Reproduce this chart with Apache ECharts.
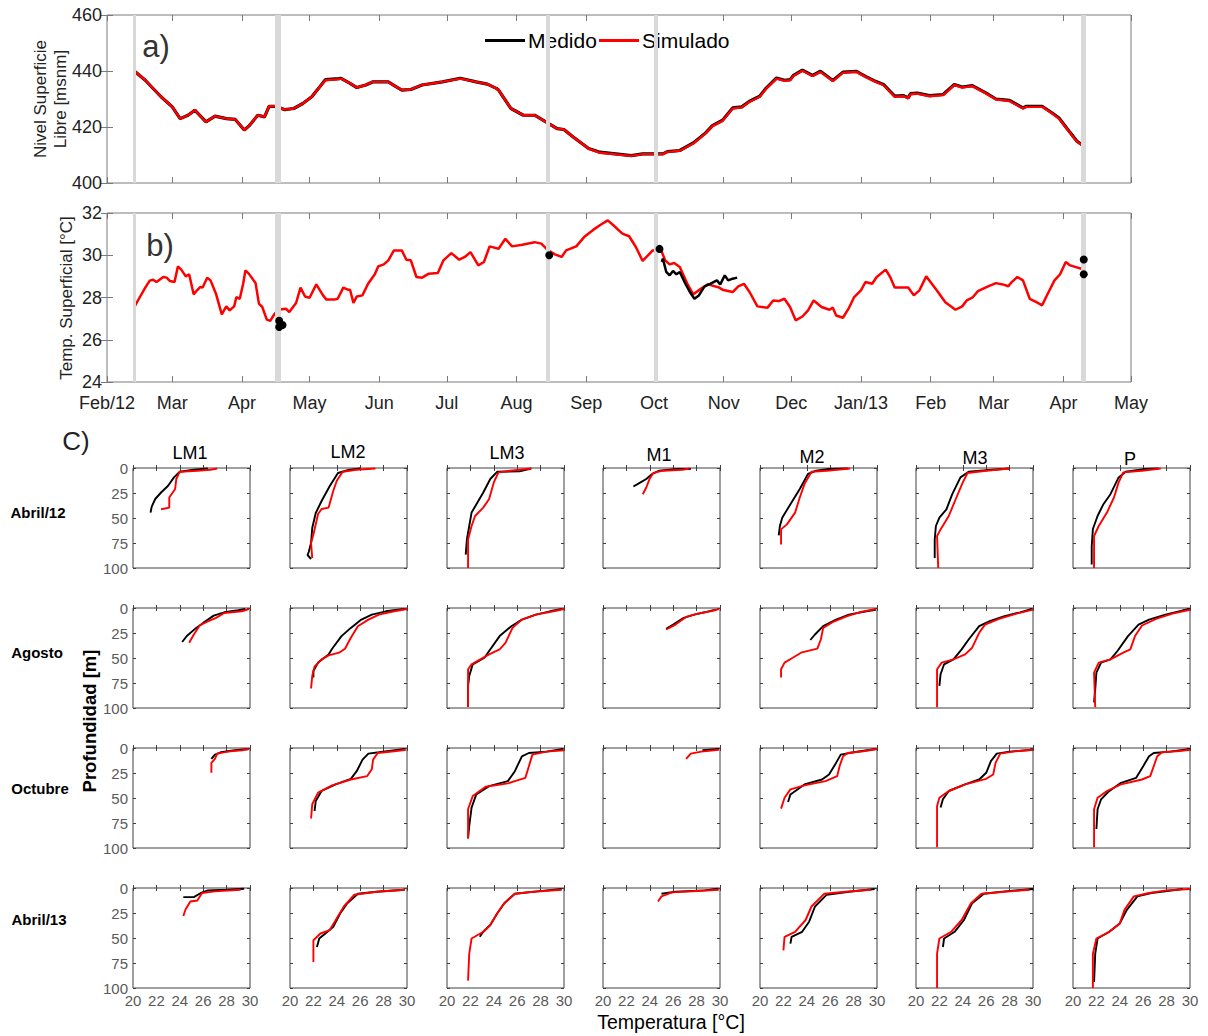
<!DOCTYPE html>
<html><head><meta charset="utf-8">
<script src="https://cdn.jsdelivr.net/npm/echarts@6/dist/echarts.min.js"></script>
<style>html,body{margin:0;padding:0;background:#fff}#c{width:1208px;height:1036px}</style>
</head><body><div id="c"></div><script>
// ---------- DATA ----------
// days counted from 1 Feb 2012
const monthTickDays = [0,29,60,90,121,151,182,213,243,274,304,335,366,394,425,455];
const monthTickLabels = ['Feb/12','Mar','Apr','May','Jun','Jul','Aug','Sep','Oct','Nov','Dec','Jan/13','Feb','Mar','Apr','May'];
const campaignDays = [12,76,196,244,434];

const levelDays = [12,17,24,29,32.5,36,39,44,48,53,57,61,63,67,70,72,75,79,83,87,91,94,97,103,104,108,111,115,118,125,128,131,135,140,149,157,164,169,173,174,179.5,185,190,195,200,203,207,214,219,233,238,247,249,254.5,260.5,266,269,273.5,278,282,285.5,290,293,297.5,301,303.5,305,309,313.5,317,322.5,327,333,337,341.5,345,350,354,356,357,360,365.5,371.5,376.5,380,384.5,390.5,395,401,407,408.5,415.5,420,423,427.5,431,434];
const levelMeasured = [440.1,436.7,430.8,427.2,423.0,424.2,426.0,421.8,423.9,423.0,422.7,418.9,420.3,424.2,423.6,427.4,427.4,426.2,426.6,428.4,430.8,433.8,436.9,437.3,437.4,435.6,434.1,435.0,436.1,436.1,434.6,433.2,433.4,435.0,436.1,437.4,436.1,435.3,433.8,433.2,426.6,424.2,424.2,421.8,419.4,419.1,416.5,412.3,411.0,409.8,410.4,410.4,411.2,411.6,414.3,417.9,420.5,422.4,426.8,427.2,429.2,431.0,434.0,437.5,436.7,436.9,438.4,440.3,438.4,439.9,436.6,439.6,439.9,438.1,436.3,435.2,431.0,431.2,430.4,431.9,432.1,431.2,431.6,435.2,434.3,434.8,432.2,430.0,429.5,426.8,427.4,427.4,425.0,423.2,418.5,414.9,413.2];
const levelSimulated = [440.1,436.7,430.8,427.2,423.0,424.2,426.0,421.8,423.9,423.0,422.7,418.9,420.3,424.2,423.6,427.4,427.4,426.2,426.6,428.4,430.8,433.8,436.7,437.1,437.3,435.6,434.1,435.0,436.1,436.1,434.6,433.2,433.4,435.0,436.1,437.3,436.1,435.3,433.8,433.2,426.6,424.2,424.2,421.8,419.4,419.1,416.5,412.3,410.8,409.7,410.3,410.3,411.1,411.5,414.1,417.7,420.3,422.2,426.6,427.0,429.0,430.8,433.8,437.3,436.5,436.7,438.2,440.1,438.2,439.7,436.4,439.4,439.7,437.9,436.1,435.0,430.8,431.0,430.2,431.7,431.9,431.0,431.4,435.0,434.1,434.6,432.0,429.8,429.3,426.6,427.2,427.2,424.8,423.0,418.3,414.7,413.1];

const tempSimDays = [12,14.5,17,19,20.5,22,25,26.5,28,30,31.5,33,35,36.5,38.5,40,41.5,42.5,44.5,46,48.5,51,53,54.5,56.5,57.5,59,60.5,61.5,63,66,67.5,69,71,72.5,74.5,76,79.5,81,84,86,88,90,93,96,97.5,101,102.5,105,107,108,109.5,111,113.5,116,119,120.5,123,125,127.5,131,133,135,137.5,140,143,147,149.5,153,156.5,159,161.5,165,167.5,170,174,177,180,184.5,190,193,196,199,202,204,208.5,212,216,219,222.5,225,229,232,235,238,242.5,245,246,248,250,252,254.5,258,260.5,264,267,272,273.5,278,280.5,283,285.5,289,293.5,296,298.5,301,303.5,306,309,311.5,314,317.5,321,322.5,324,327,329.5,332,335,337,340,342,346,348,350,353,356,358.5,361,364,366.5,369,372.5,377,380,382,384.5,387,391.5,395,398,400.5,402,404.5,407,410,413,415.5,418,421,423.5,426,428,430.5,433];
const tempSimulated = [27.52,28.0,28.47,28.8,28.84,28.73,28.97,28.94,28.78,28.73,29.47,29.32,29.0,29.1,28.15,28.34,28.5,28.47,28.94,28.81,28.15,27.2,27.58,27.39,27.58,28.02,27.94,28.65,29.28,29.13,28.69,27.71,27.55,26.95,26.89,27.23,27.42,27.47,27.31,27.74,28.47,28.05,27.99,28.62,28.1,27.9,27.9,27.94,28.47,28.37,28.37,27.74,28.05,28.1,28.65,29.1,29.47,29.57,29.76,30.23,30.23,29.79,29.76,28.97,28.94,29.13,29.16,29.76,30.1,29.79,29.92,30.15,29.52,29.68,30.42,30.31,30.78,30.42,30.5,30.62,30.55,30.23,30.04,29.92,30.23,30.42,30.86,31.2,31.42,31.65,31.42,31.02,30.9,30.39,29.73,30.23,30.23,30.3,29.76,29.57,29.63,29.44,28.62,28.15,28.42,28.62,28.47,28.37,28.26,28.53,28.65,28.26,27.58,27.52,27.86,27.83,27.94,27.55,26.92,27.1,27.39,27.86,27.55,27.42,27.52,27.15,27.04,27.47,28.02,28.34,28.73,28.65,28.97,29.32,28.97,28.47,28.47,28.47,28.1,28.34,29.0,28.65,28.3,27.78,27.42,27.58,27.86,27.99,28.3,28.53,28.68,28.62,28.53,28.73,28.97,28.81,27.94,27.78,27.63,28.18,28.81,29.1,29.68,29.52,29.44,29.36];
const tempMeasDays = [246.5,247,248.5,250,251.5,253,254.5,257,259,261,263,265.5,268,271,272.5,274.5,276,278,280];
const tempMeasured = [29.68,29.84,29.21,29.05,29.26,29.1,29.21,28.65,28.26,27.94,28.1,28.53,28.65,28.81,28.62,29.05,28.81,28.89,28.94];
const tempPointDays = [76.5,76.5,78,196.5,245.5,434,434];
const tempPointValues = [26.9,26.6,26.7,30.0,30.3,29.8,29.1];

// profiles: [temperature °C, depth m]
const stations = ['LM1','LM2','LM3','M1','M2','M3','P'];
const campaigns = ['Abril/12','Agosto','Octubre','Abril/13'];

const abril12Medido = {
 LM1: [[21.5,44.6],[21.6,38.6],[21.9,31],[22.4,24.5],[23.0,17.8],[23.5,9.4],[24.0,3.7],[25.2,1.7],[26.4,0.5]],
 LM2: [[21.8,91],[21.5,87],[21.6,84],[21.8,75],[21.9,60],[22.2,45],[22.7,33],[23.4,18],[24.1,5],[25.0,2],[26.0,0.5]],
 LM3: [[21.6,86.6],[21.7,71.5],[21.9,58],[22.1,44.6],[22.6,34.6],[23.1,24.5],[23.7,11],[24.3,3.7],[26.2,3.4],[27.2,0.5]],
 M1: [[22.6,18.5],[23.1,15.1],[23.7,11],[24.2,6],[24.8,2.7],[26.3,1],[27.5,1]],
 M2: [[21.6,67.4],[21.7,58],[21.9,49.7],[22.6,36.2],[23.4,21],[24.1,6],[24.8,2.7],[25.9,1],[27.5,0.5]],
 M3: [[21.6,90],[21.6,71.5],[21.7,58],[22.0,49.7],[22.6,41.3],[23.1,26.2],[23.8,9.4],[24.5,3.7],[26.5,1.7],[28.0,0.5]],
 P: [[21.6,96.6],[21.6,78],[21.7,61],[22.1,48],[22.6,36.2],[23.2,26.2],[23.9,9.4],[24.5,3.7],[26.2,1],[27.3,0.5]]
};
const abril12Simulado = {
 LM1: [[22.4,41.3],[23.1,39.6],[23.1,29.5],[23.6,21],[23.7,11],[24.0,3.7],[25.5,2.7],[26.6,1.7],[27.2,0.5]],
 LM2: [[21.9,90],[21.8,75],[22.0,66.5],[22.4,46],[22.7,41],[23.3,39.6],[23.7,22.8],[24.0,12.8],[24.5,3.7],[25.7,1.7],[27.3,0.5]],
 LM3: [[21.8,100],[21.8,71.5],[22.1,58],[22.4,48],[23.1,39.6],[23.6,31],[24.0,14.4],[24.4,4.4],[25.4,2.7],[27.2,0.5]],
 M1: [[23.4,26.2],[23.7,19.5],[24.0,10.4],[24.3,5],[25.1,2.7],[26.8,1.7],[27.4,0.5]],
 M2: [[21.8,76.5],[21.8,61.4],[22.3,56.4],[23.0,44.6],[23.4,29.5],[23.8,16.1],[24.4,3.7],[25.7,2.7],[27.7,0.5]],
 M3: [[21.9,100],[21.8,68],[22.1,61.4],[22.8,48],[23.4,31],[24.0,14.4],[24.4,5],[26.0,2.7],[28.0,0.5]],
 P: [[21.8,100],[21.8,68],[22.2,58],[22.9,44.6],[23.5,29.5],[23.9,14.4],[24.3,4.4],[25.9,2.7],[27.5,0.5]]
};
const agostoMedido = {
 LM1: [[24.2,34],[24.6,28],[25.4,19.9],[26.0,14.9],[26.9,7.6],[27.8,4.3],[29.0,2.3],[29.6,1]],
 LM2: [[22.0,69.5],[22.0,63],[22.4,54.6],[23.3,46.4],[23.6,40.7],[24.4,28.1],[25.2,19.9],[26.1,11.6],[27.0,6.6],[28.2,3.3],[29.2,1.7],[29.8,1]],
 LM3: [[21.8,99],[21.8,77.8],[21.9,67.9],[22.2,56.3],[23.2,49.7],[23.6,43],[24.5,28.1],[25.5,18.2],[26.4,11.6],[27.6,6.6],[28.8,3.3],[29.8,1]],
 M1: [[25.4,20.9],[26.0,16.6],[26.9,9.9],[27.8,6.6],[28.7,4.3],[29.6,1.7]],
 M2: [[24.3,32],[24.7,26.5],[25.4,18.2],[26.5,11.6],[27.6,6.6],[29.1,3.3],[29.9,1.7]],
 M3: [[22.0,77.8],[22.1,66.2],[22.4,56.3],[23.2,51.3],[23.9,41.4],[24.5,31.5],[25.4,18.2],[26.3,13.2],[27.5,8.3],[28.9,4.3],[29.9,1]],
 P: [[21.8,94.4],[21.9,81.1],[22.0,64.6],[22.4,54.6],[23.2,51.3],[23.8,43],[24.7,28.1],[25.6,16.6],[26.5,11.6],[27.9,6.6],[29.4,2.3],[30.0,1]]
};
const agostoSimulado = {
 LM1: [[24.8,34.8],[25.2,26.5],[25.7,17.5],[26.3,13.9],[27.1,9.9],[27.8,5],[29.3,3.3],[29.9,1]],
 LM2: [[21.8,80.5],[21.9,68],[22.1,58.6],[22.7,51.3],[23.3,47.4],[24.2,44.7],[24.7,40.7],[25.2,29.8],[25.8,18.2],[26.7,11.6],[27.6,6.6],[28.9,3.3],[30.0,1]],
 LM3: [[21.8,99],[21.8,61.3],[22.1,56.3],[22.7,52.3],[23.6,46.4],[24.5,41.4],[25.0,34.8],[25.6,19.9],[26.4,11.6],[27.6,6.6],[29.1,3.3],[30.0,1]],
 M1: [[25.4,21.5],[26.2,16.6],[27.1,8.9],[28.1,5.6],[29.3,3],[29.9,1]],
 M2: [[21.8,69.5],[21.8,61.3],[22.1,54.6],[22.8,49.7],[23.5,44.7],[24.9,40.7],[25.2,31.5],[25.4,19.9],[26.2,14.2],[27.4,8.3],[28.5,4.3],[29.9,1]],
 M3: [[21.8,99.3],[21.8,61.3],[22.2,54.6],[23.2,51.3],[24.2,46.4],[24.8,39.7],[25.4,24.8],[25.9,16.6],[27.1,10.9],[28.6,5.6],[30.0,1.7]],
 P: [[21.9,99.3],[21.8,64.6],[22.2,54.6],[23.2,51.3],[24.3,44.7],[24.9,41.4],[25.3,28.1],[25.9,17.5],[27.1,10.9],[28.5,5.6],[30.0,1.7]]
};
const octubreMedido = {
 LM1: [[26.7,10.9],[27.0,6.6],[27.5,4.3],[28.7,2.3],[29.9,1]],
 LM2: [[22.1,63],[22.2,53],[22.7,43],[23.9,36.4],[25.2,30.8],[25.7,23.2],[26.2,11.6],[26.7,5.6],[27.6,4.3],[29.8,1]],
 LM3: [[21.8,90.4],[21.9,77.8],[22.1,59.6],[22.5,46.4],[23.6,38.1],[25.2,33.1],[25.8,23.2],[26.4,8.3],[27.0,5],[28.5,3.6],[29.9,1]],
 M1: [[28.5,2.3],[29.9,1]],
 M2: [[22.4,54],[22.6,46.4],[23.8,36.4],[25.3,31.5],[25.9,26.5],[26.5,14.9],[26.9,6.6],[28.0,4.3],[29.9,1]],
 M3: [[22.1,59.6],[22.3,51.3],[22.8,43],[24.2,36.4],[25.4,31.5],[26.0,24.8],[26.4,13.2],[26.9,5.6],[28.0,3.6],[30.0,1.7]],
 P: [[22.0,81],[22.1,61.3],[22.4,51.3],[23.0,44],[24.1,34.8],[25.4,29.8],[26.0,18.2],[26.5,8.3],[26.9,5],[28.3,3.6],[30.0,1]]
};
const octubreSimulado = {
 LM1: [[26.7,24.8],[26.7,14.9],[27.0,10.9],[27.2,5.6],[28.1,3.6],[29.3,2.3],[29.9,1]],
 LM2: [[21.8,70.5],[21.9,56.3],[22.4,44.7],[23.6,37.4],[25.2,31.5],[26.6,28.1],[27.0,20.9],[27.1,11.6],[27.5,5],[28.9,3.3],[29.9,1.7]],
 LM3: [[21.8,90.4],[21.8,61.3],[22.2,48],[23.3,38.7],[25.2,35.4],[26.7,29.8],[27.0,18.2],[27.3,6.6],[28.5,3.6],[30.0,2.3]],
 M1: [[27.1,10.9],[27.5,5.6],[28.4,3.6],[29.9,1.7]],
 M2: [[21.8,60.6],[22.1,49.7],[22.6,41.4],[23.8,37.4],[25.6,33.1],[26.6,28.1],[26.8,18.2],[27.1,8.3],[27.5,5],[28.8,3.3],[30.0,1]],
 M3: [[21.8,99.3],[21.8,58],[22.0,49.7],[22.8,43],[24.2,36.4],[26.0,30.8],[26.6,26.5],[26.8,14.9],[27.2,5.6],[28.3,3.6],[30.0,1.7]],
 P: [[21.8,99.3],[21.8,61.3],[22.1,49.7],[22.9,43],[24.1,36.4],[25.9,31.5],[26.6,28.1],[26.9,18.2],[27.2,8.3],[27.6,4.3],[29.1,3],[30.0,1.7]]
};
const abril13Medido = {
 LM1: [[24.3,9.1],[25.2,9.1],[25.8,5],[26.4,2.4],[28.0,1.7],[29.5,0.7]],
 LM2: [[22.3,59],[22.5,50.5],[23.1,44.8],[23.7,38.7],[24.3,25.3],[24.9,15.2],[25.8,5.7],[27.4,3.7],[29.8,1.7]],
 LM3: [[22.8,48.8],[23.1,43.8],[23.7,37],[24.3,25.3],[24.9,15.2],[25.8,5.7],[27.7,3.4],[29.8,1]],
 M1: [[25.0,5.7],[26.2,3.7],[28.7,2.4],[29.8,0.7]],
 M2: [[22.6,55.6],[22.7,48.8],[23.6,43.8],[24.2,33.7],[24.7,18.5],[25.7,6.7],[27.6,3.7],[29.8,1]],
 M3: [[22.3,59],[22.4,50.5],[23.3,43.8],[24.1,32],[24.8,15.2],[25.8,5.7],[27.6,3.4],[30.0,1]],
 P: [[21.8,94],[21.9,65.7],[22.1,50.5],[23.1,43.8],[24.0,35.4],[24.6,21.9],[25.5,8.4],[26.7,5],[29.4,1]]
};
const abril13Simulado = {
 LM1: [[24.3,28],[24.5,21.2],[24.9,13.5],[25.5,12.5],[25.9,5],[27.0,3.4],[29.2,1.7]],
 LM2: [[22.0,74],[22.0,52.2],[22.6,45.5],[23.4,42.1],[24.0,30.3],[24.6,18.5],[25.5,6.7],[27.4,3.7],[29.8,1.7]],
 LM3: [[21.8,92.6],[21.9,65.7],[22.1,50.5],[23.1,43.8],[23.7,37],[24.3,25.3],[24.9,15.2],[25.8,5.7],[27.4,3.7],[29.8,1.7]],
 M1: [[24.7,13.5],[25.0,8.4],[25.9,4.4],[28.0,3],[29.9,1.7]],
 M2: [[22.0,62.3],[22.1,48.8],[23.0,43.8],[23.9,32],[24.4,18.5],[25.5,5.7],[27.3,3.7],[29.5,1.7]],
 M3: [[21.8,100],[21.8,65.7],[22.0,50.5],[23.0,43.8],[23.9,32],[24.7,15.2],[25.6,5.7],[27.6,3.7],[29.7,1.7]],
 P: [[21.7,100],[21.7,65.7],[22.0,50.5],[23.1,43.8],[24.0,35.4],[24.4,21.9],[25.2,8.4],[26.5,5],[28.0,2.4],[30.0,1]]
};
const profileMeasured = [abril12Medido, agostoMedido, octubreMedido, abril13Medido];
const profileSimulated = [abril12Simulado, agostoSimulado, octubreSimulado, abril13Simulado];

// ---------- LAYOUT / STYLE ----------
const FONT = 'Liberation Sans, Arial, Helvetica, sans-serif';
const RED = '#ff0000', BLACK = '#000000', BAND = '#d9d9d9';
const topGray = '#7a7a7a', profGray = '#404040';
const colLefts = [133,290,447,603,760,916,1073];
const rowTops = [468,608,748,888];
const PW = 117, PH = 100;
const bandWidths = [3,6,4,4,5];

const zip = (a,b) => a.map((v,i)=>[v,b[i]]);

const grids = [
  {left:107, top:15, width:1024, height:168, show:true, borderColor:topGray, borderWidth:1},
  {left:107, top:213, width:1024, height:169, show:true, borderColor:topGray, borderWidth:1}
];
const xAxes = [], yAxes = [];
function timeX(g, pos, labels){
  return {gridIndex:g, type:'value', position:pos, min:0, max:455,
    axisLine:{show:false}, splitLine:{show:false},
    axisTick:{show:true, inside:true, length:6, customValues:monthTickDays, lineStyle:{color:topGray}},
    axisLabel: labels ? {show:true, customValues:monthTickDays, margin:12, fontSize:18, fontFamily:FONT, color:'#222',
        formatter: v => monthTickLabels[monthTickDays.indexOf(v)]} : {show:false}};
}
function valY(g, pos, min, max, iv, labels){
  return {gridIndex:g, type:'value', position:pos, min:min, max:max, interval:iv,
    axisLine:{show:false}, splitLine:{show:false},
    axisTick:{show:true, inside:true, length:6, lineStyle:{color:topGray}},
    axisLabel: labels ? {show:true, margin:5, fontSize:18, fontFamily:FONT, color:'#222'} : {show:false}};
}
xAxes.push(timeX(0,'bottom',false), timeX(0,'top',false), timeX(1,'bottom',true), timeX(1,'top',false));
yAxes.push(valY(0,'left',400,460,20,true), valY(0,'right',400,460,20,false), valY(1,'left',24,32,2,true), valY(1,'right',24,32,2,false));

const series = [];
// campaign bands
[0,1].forEach(g=>{
  series.push({type:'line', xAxisIndex:2*g, yAxisIndex:2*g, data:[], z:1, silent:true,
    markLine:{silent:true, symbol:'none', animation:false, label:{show:false},
      data: campaignDays.map((d,i)=>({xAxis:d, lineStyle:{color:BAND, width:bandWidths[i], type:'solid'}}))}});
});
series.push({name:'Medido', type:'line', xAxisIndex:0, yAxisIndex:0, showSymbol:false, z:3,
  data: zip(levelDays, levelMeasured), lineStyle:{color:BLACK, width:3.2}, itemStyle:{color:BLACK}});
series.push({name:'Simulado', type:'line', xAxisIndex:0, yAxisIndex:0, showSymbol:false, z:4,
  data: zip(levelDays, levelSimulated), lineStyle:{color:RED, width:2.4}, itemStyle:{color:RED}});
series.push({name:'Simulado', type:'line', xAxisIndex:2, yAxisIndex:2, showSymbol:false, z:3,
  data: zip(tempSimDays, tempSimulated), lineStyle:{color:RED, width:2.5}, itemStyle:{color:RED}});
series.push({name:'Medido', type:'line', xAxisIndex:2, yAxisIndex:2, showSymbol:false, z:4,
  data: zip(tempMeasDays, tempMeasured), lineStyle:{color:BLACK, width:2.5}, itemStyle:{color:BLACK}});
series.push({name:'Medido', type:'scatter', xAxisIndex:2, yAxisIndex:2, z:5, symbolSize:8,
  data: zip(tempPointDays, tempPointValues), itemStyle:{color:BLACK, opacity:1}});

// profile panels
campaigns.forEach((camp, r)=>{
  stations.forEach((st, c)=>{
    const g = grids.length;
    grids.push({left:colLefts[c], top:rowTops[r], width:PW, height:PH, show:true, borderColor:profGray, borderWidth:1});
    const xi = xAxes.length, yi = yAxes.length;
    const tick = {show:true, inside:true, length:3, lineStyle:{color:profGray}};
    xAxes.push({gridIndex:g, type:'value', position:'bottom', min:20, max:30, interval:2,
      axisLine:{show:false}, splitLine:{show:false}, axisTick:tick,
      axisLabel:{show:r===3, margin:5, fontSize:15, fontFamily:FONT, color:'#5a5a5a'}});
    xAxes.push({gridIndex:g, type:'value', position:'top', min:20, max:30, interval:2,
      axisLine:{show:false}, splitLine:{show:false}, axisTick:tick, axisLabel:{show:false}});
    yAxes.push({gridIndex:g, type:'value', position:'left', inverse:true, min:0, max:100, interval:25,
      axisLine:{show:false}, splitLine:{show:false}, axisTick:tick,
      axisLabel:{show:c===0, margin:5, fontSize:15, fontFamily:FONT, color:'#5a5a5a'}});
    yAxes.push({gridIndex:g, type:'value', position:'right', inverse:true, min:0, max:100, interval:25,
      axisLine:{show:false}, splitLine:{show:false}, axisTick:tick, axisLabel:{show:false}});
    series.push({type:'line', xAxisIndex:xi, yAxisIndex:yi, showSymbol:false, z:3,
      data: profileMeasured[r][st], lineStyle:{color:BLACK, width:1.9}, itemStyle:{color:BLACK}});
    series.push({type:'line', xAxisIndex:xi, yAxisIndex:yi, showSymbol:false, z:4,
      data: profileSimulated[r][st], lineStyle:{color:RED, width:1.9}, itemStyle:{color:RED}});
  });
});

// text elements
const stationTitleX = [190,348,507,659,812,975,1130];
const stationTitleY = [453,452,453,455,457,458,459];
const rowLabelX = [38,37,40,39];
const rowLabelY = [512,652,788,919];
const graphics = [];
function txt(text, x, y, size, opts){
  opts = opts || {};
  graphics.push({type:'text', x:x, y:y, rotation:opts.rot||0, z:100,
    style:{text:text, fontSize:size, fontFamily:FONT, fontWeight:opts.bold?'bold':'normal',
      fill:opts.color||'#000', textAlign:'center', textVerticalAlign:'middle'}});
}
stations.forEach((s,i)=>txt(s, stationTitleX[i], stationTitleY[i], 18, {color:'#000'}));
campaigns.forEach((s,i)=>txt(s, rowLabelX[i], rowLabelY[i], 15, {bold:true}));
txt('Profundidad [m]', 89, 721, 18.5, {bold:true, rot:Math.PI/2});
txt('Temperatura [°C]', 671, 1022, 19.5);
txt('C)', 76, 441, 26, {color:'#222'});
txt('a)', 156, 46, 31, {color:'#333'});
txt('b)', 160, 245, 31, {color:'#333'});
txt('Nivel Superficie', 40, 99, 17, {rot:Math.PI/2, color:'#222'});
txt('Libre [msnm]', 60, 99, 17, {rot:Math.PI/2, color:'#222'});
txt('Temp. Superficial [°C]', 66, 298, 17, {rot:Math.PI/2, color:'#222'});

const legendBase = {top:25, icon:'rect', itemWidth:40, itemHeight:3,
  textStyle:{fontSize:21, fontFamily:FONT, color:'#000', padding:[0,0,0,-2]}, selectedMode:false};

const chart = echarts.init(document.getElementById('c'), null, {renderer:'svg', width:1208, height:1036});
chart.setOption({
  animation:false,
  backgroundColor:'#fff',
  legend:[
    Object.assign({}, legendBase, {data:['Medido'], left:480}),
    Object.assign({}, legendBase, {data:['Simulado'], left:594})
  ],
  grid: grids, xAxis: xAxes, yAxis: yAxes, series: series, graphic: graphics
});
</script></body></html>
